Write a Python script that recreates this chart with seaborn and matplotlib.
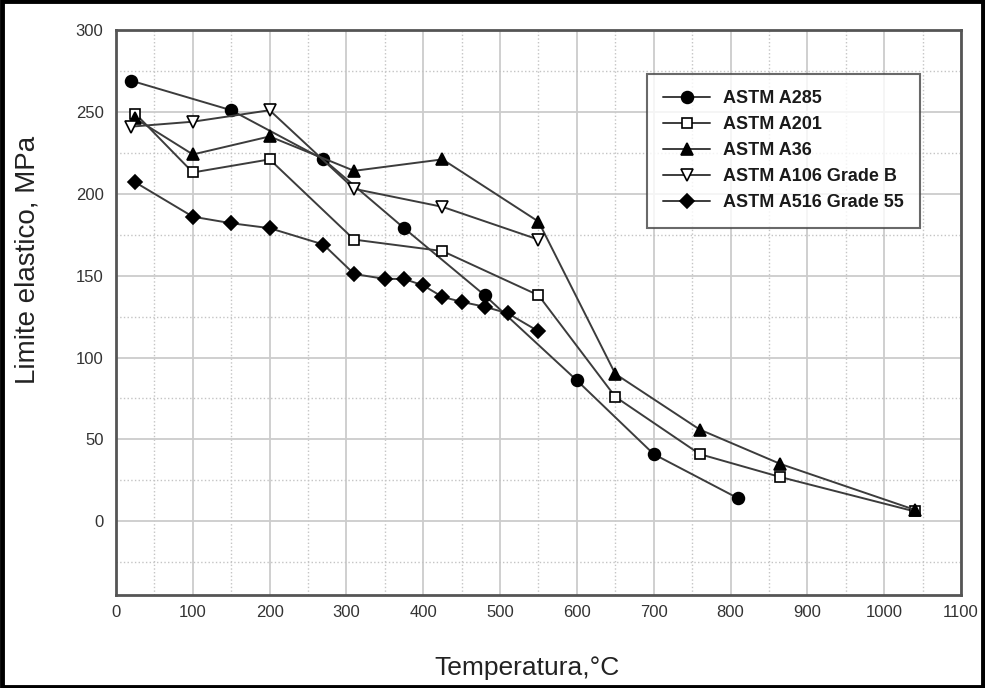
import pandas as pd
import seaborn as sns
import matplotlib.pyplot as plt
from matplotlib.patches import Rectangle
from matplotlib.ticker import MultipleLocator

# Yield strength vs temperature for several ASTM steels
a285_t = [20, 150, 270, 375, 480, 600, 700, 810]
a285_y = [269, 251, 221, 179, 138, 86, 41, 14]

a201_t = [25, 100, 200, 310, 425, 550, 650, 760, 865, 1040]
a201_y = [249, 213, 221, 172, 165, 138, 76, 41, 27, 6]

a36_t = [25, 100, 200, 310, 425, 550, 650, 760, 865, 1040]
a36_y = [246, 224, 235, 214, 221, 183, 90, 56, 35, 7]

a106_t = [20, 100, 200, 310, 425, 550]
a106_y = [241, 244, 251, 203, 192, 172]

a516_t = [25, 100, 150, 200, 270, 310, 350, 375, 400, 425, 450, 480, 510, 550]
a516_y = [207, 186, 182, 179, 169, 151, 148, 148, 144, 137, 134, 131, 127, 116]

labels = ['ASTM A285', 'ASTM A201', 'ASTM A36', 'ASTM A106 Grade B', 'ASTM A516 Grade 55']
series = [(a285_t, a285_y), (a201_t, a201_y), (a36_t, a36_y), (a106_t, a106_y), (a516_t, a516_y)]

frames = []
for lab, (t, y) in zip(labels, series):
    frames.append(pd.DataFrame({'Temperatura': t, 'Limite': y, 'Acero': lab}))
data = pd.concat(frames, ignore_index=True)

sns.set_style('white')
plt.rcParams['font.family'] = ['Liberation Sans', 'DejaVu Sans']

fig = plt.figure(figsize=(9.85, 6.88), dpi=100)
ax = fig.add_axes([0.1178, 0.1352, 0.8578, 0.8212])

line_col = '#3c3c3c'
styles = {
    'ASTM A285': dict(marker='o', markersize=8.5, markerfacecolor='black'),
    'ASTM A201': dict(marker='s', markersize=7.5, markerfacecolor='white'),
    'ASTM A36': dict(marker='^', markersize=8.5, markerfacecolor='black'),
    'ASTM A106 Grade B': dict(marker='v', markersize=8.5, markerfacecolor='white'),
    'ASTM A516 Grade 55': dict(marker='D', markersize=7.5, markerfacecolor='black'),
}

for lab in labels:
    sub = data[data['Acero'] == lab]
    sns.lineplot(data=sub, x='Temperatura', y='Limite', ax=ax, sort=False,
                 color=line_col, linewidth=1.4, markeredgecolor='black',
                 markeredgewidth=1.2, label=lab, zorder=3, **styles[lab])

ax.set_xlim(0, 1100)
ax.set_ylim(-45, 300)
ax.xaxis.set_major_locator(MultipleLocator(100))
ax.xaxis.set_minor_locator(MultipleLocator(50))
ax.yaxis.set_major_locator(MultipleLocator(50))
ax.yaxis.set_minor_locator(MultipleLocator(25))

ax.grid(True, which='major', color='#cccccc', linewidth=1.3, linestyle='-', zorder=0)
ax.grid(True, which='minor', color='#c4c4c4', linewidth=1.0, linestyle=':', zorder=0)
ax.set_axisbelow(True)

for sp in ax.spines.values():
    sp.set_color('#555555')
    sp.set_linewidth(2)

ax.tick_params(which='major', direction='out', length=4, width=1.5, color='#444444',
               labelsize=12, labelcolor='#333333')
ax.tick_params(which='minor', direction='in', length=4, width=1.2, color='#444444')
ax.tick_params(axis='x', pad=3)
ax.tick_params(axis='y', pad=5)
for tl in ax.get_xticklabels() + ax.get_yticklabels():
    tl.set_family(['Liberation Sans Narrow', 'Liberation Sans', 'DejaVu Sans'])

ax.set_xlabel('Temperatura,°C', fontsize=19, color='#222222')
ax.set_ylabel('Limite elastico, MPa', fontsize=20, color='#222222')
ax.xaxis.set_label_coords(0.486, -0.108)
ax.yaxis.set_label_coords(-0.089, 0.593)

leg = ax.legend(loc='upper left', bbox_to_anchor=(0.6175, 0.938), frameon=True,
                fancybox=False, handlelength=2.6, handletextpad=0.7, borderpad=0.9,
                labelspacing=0.5, prop={'weight': 'bold', 'size': 13})
leg.get_frame().set_edgecolor('#444444')
leg.get_frame().set_linewidth(1.5)
for txt in leg.get_texts():
    txt.set_color('#1a1a1a')

# black frame around the whole picture
fig.patches.append(Rectangle((0.002, 0.002), 0.996, 0.996, transform=fig.transFigure,
                             fill=False, edgecolor='black', linewidth=3.5))

fig.savefig('out.png', dpi=100, facecolor='white')
